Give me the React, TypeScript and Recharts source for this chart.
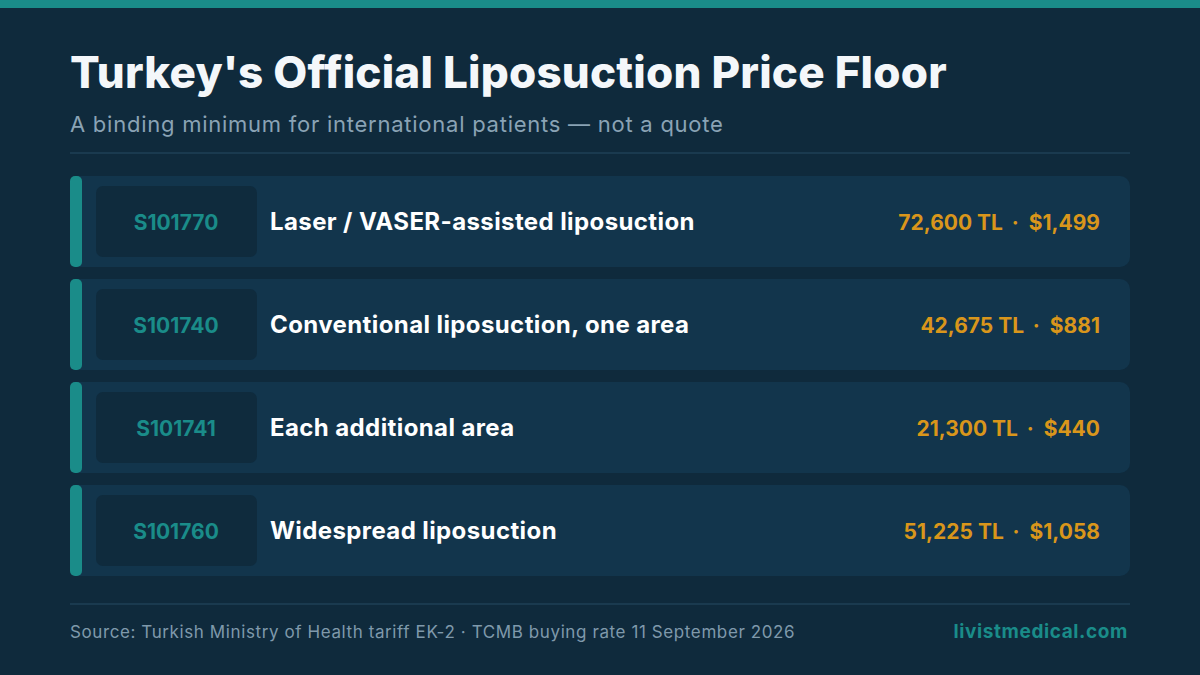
import { BarChart, Bar, XAxis, YAxis } from "recharts";

const codes = ["S101770", "S101740", "S101741", "S101760"];
const procedures = [
  "Laser / VASER-assisted liposuction",
  "Conventional liposuction, one area",
  "Each additional area",
  "Widespread liposuction",
];
const priceTL = [72600, 42675, 21300, 51225];
const priceUSD = [1499, 881, 440, 1058];

const data = codes.map((code, i) => ({
  code,
  name: procedures[i],
  tl: priceTL[i],
  usd: priceUSD[i],
}));

const FONT = "Inter, 'Open Sans', sans-serif";
const BG = "#0f2a3c";
const CARD = "#12354c";
const BOX = "#0f2b3d";
const TEAL = "#1a8c89";
const GOLD = "#d9961b";

const fmt = (n: number) => n.toLocaleString("en-US");

function RowCard(props: any) {
  const { y, height, payload } = props;
  const left = 70;
  const right = 1130;
  const cy = y + height / 2;
  return (
    <g>
      <rect x={left} y={y} width={right - left} height={height} rx={10} fill={CARD} />
      <rect x={left} y={y} width={12} height={height} rx={5} fill={TEAL} />
      <rect x={96} y={y + 10} width={161} height={height - 20} rx={7} fill={BOX} />
      <text x={176} y={cy + 8} textAnchor="middle" fill={TEAL} fontSize={21} fontWeight={700} fontFamily={FONT}>
        {payload.code}
      </text>
      <text x={270} y={cy + 8.5} fill="#ffffff" fontSize={24} fontWeight={700} letterSpacing={0.4} fontFamily={FONT}>
        {payload.name}
      </text>
      <text x={1100} y={cy + 8} textAnchor="end" fill={GOLD} fontSize={21} fontWeight={700} fontFamily={FONT}>
        {`${fmt(payload.tl)} TL`}
        <tspan dx={10}>·</tspan>
        <tspan dx={10}>{`$${fmt(payload.usd)}`}</tspan>
      </text>
    </g>
  );
}

export default function App() {
  return (
    <div style={{ position: "absolute", left: 0, top: 0, width: 1200, height: 675, background: BG, overflow: "hidden" }}>
      <svg width={1200} height={675} style={{ position: "absolute", left: 0, top: 0 }}>
        <rect x={0} y={0} width={1200} height={8} fill={TEAL} />
        <text x={70} y={88} fill="#f4f7fa" fontSize={44} fontWeight={800} letterSpacing={0.2} fontFamily={FONT}>
          Turkey's Official Liposuction Price Floor
        </text>
        <text x={70} y={132} fill="#8aa3b5" fontSize={22} letterSpacing={0.75} fontFamily={FONT}>
          A binding minimum for international patients — not a quote
        </text>
        <line x1={70} x2={1130} y1={153} y2={153} stroke="#1f4056" strokeWidth={1.5} />
        <line x1={70} x2={1130} y1={604} y2={604} stroke="#1f4056" strokeWidth={1.5} />
        <text x={70} y={638} fill="#7f99ab" fontSize={17} letterSpacing={0.6} fontFamily={FONT}>
          Source: Turkish Ministry of Health tariff EK-2 · TCMB buying rate 11 September 2026
        </text>
        <text x={1128} y={638} textAnchor="end" fill={TEAL} fontSize={19} fontWeight={700} letterSpacing={0.6} fontFamily={FONT}>
          livistmedical.com
        </text>
      </svg>
      <div style={{ position: "absolute", left: 0, top: 0 }}>
        <BarChart
          width={1200}
          height={675}
          data={data}
          layout="vertical"
          margin={{ top: 170, right: 70, bottom: 93, left: 70 }}
        >
          <XAxis type="number" hide domain={[0, "dataMax"]} />
          <YAxis type="category" dataKey="code" hide />
          <Bar dataKey="tl" barSize={91} shape={<RowCard />} isAnimationActive={false} />
        </BarChart>
      </div>
    </div>
  );
}
